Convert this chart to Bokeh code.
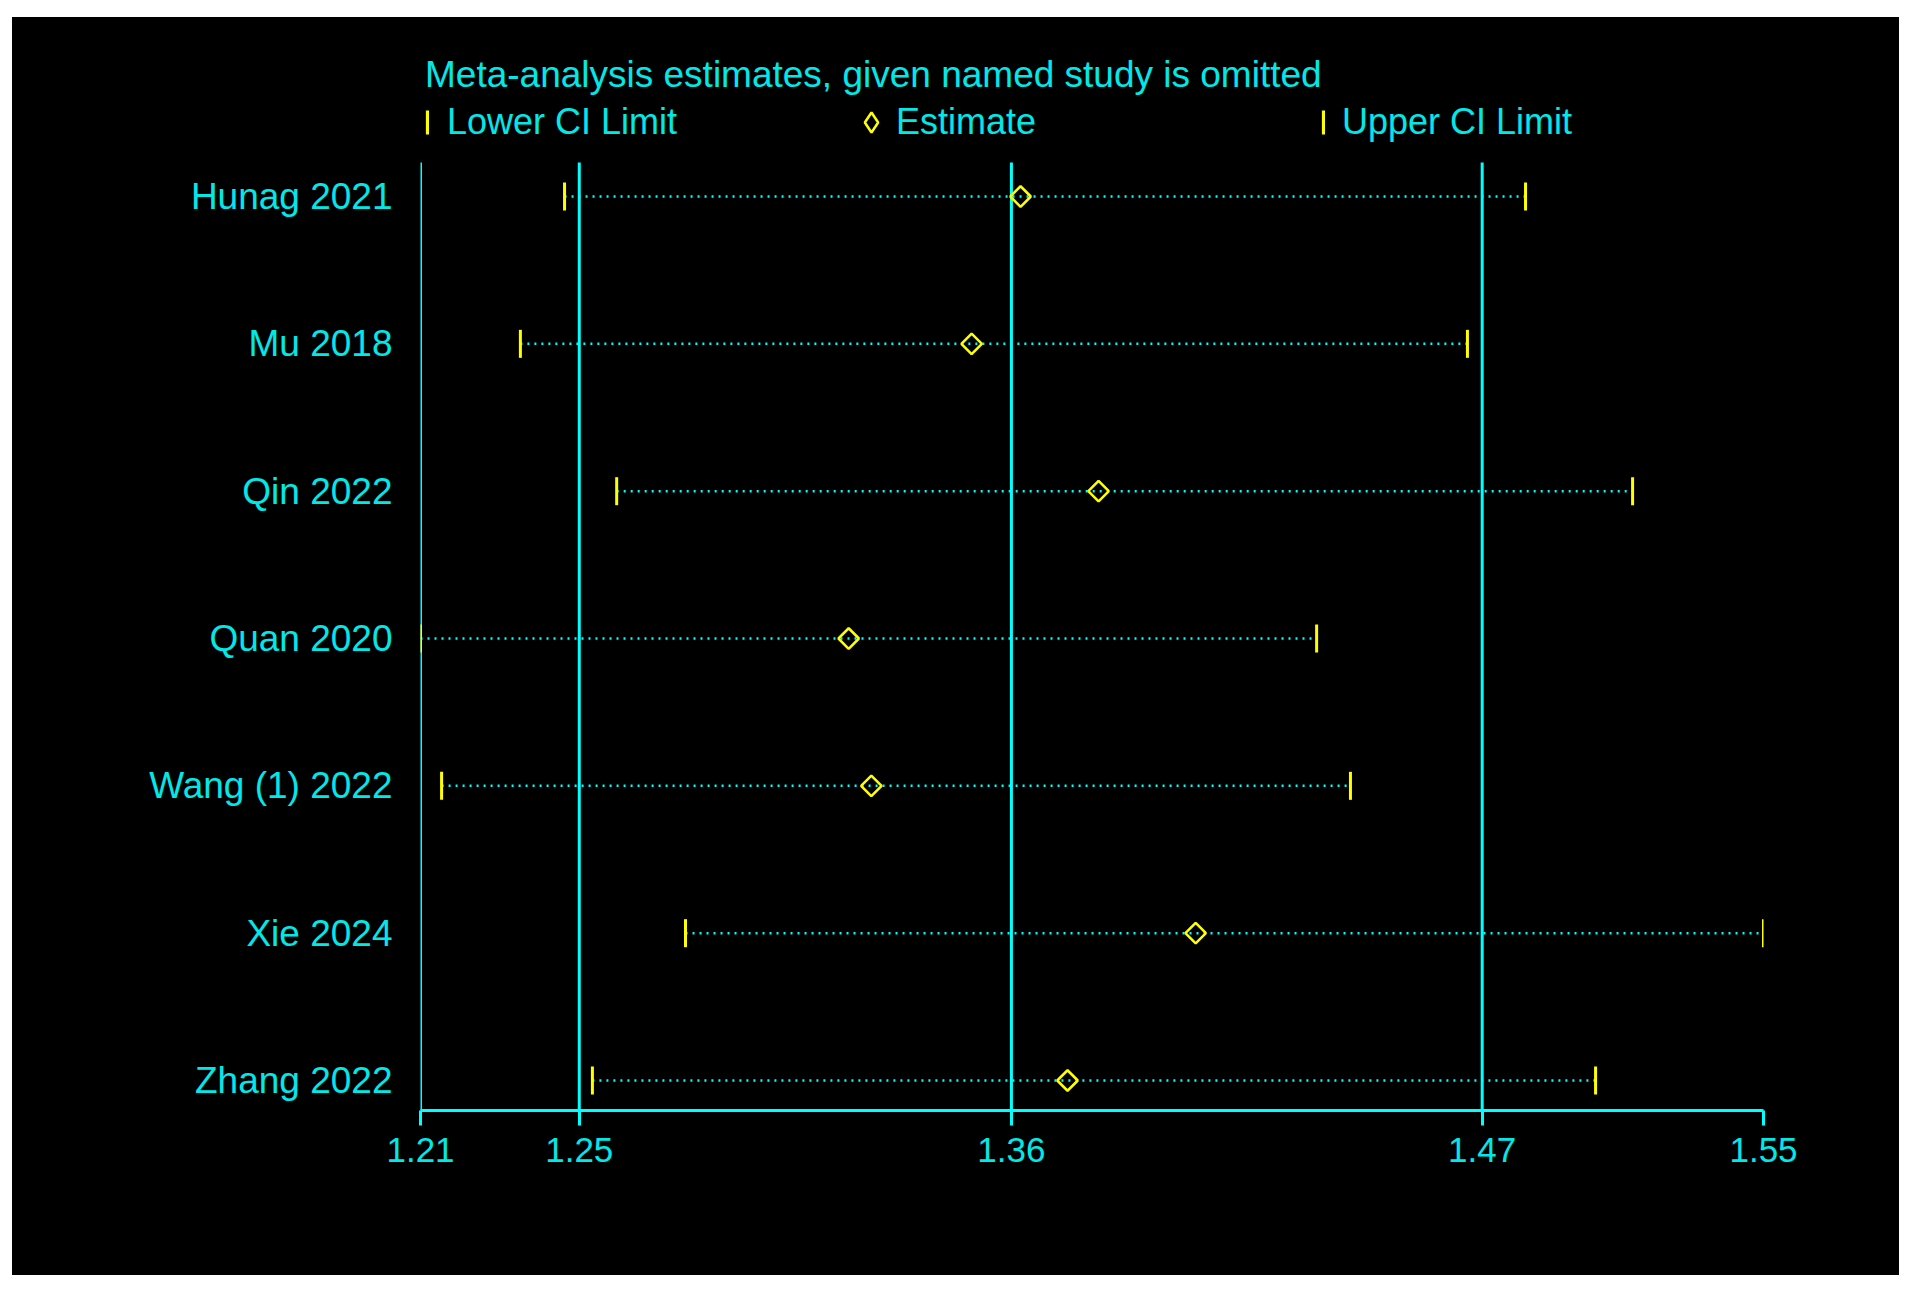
import math
from bokeh.plotting import figure
from bokeh.models import Range1d, FixedTicker, Legend, LegendItem, ColumnDataSource
from bokeh.embed import file_html
from bokeh.resources import INLINE

# ---- data ----
studies = ["Hunag 2021", "Mu 2018", "Qin 2022", "Quan 2020", "Wang (1) 2022", "Xie 2024", "Zhang 2022"]
estimate = [1.3586, 1.3463, 1.3782, 1.3154, 1.3211, 1.4026, 1.3704]
lower_ci = [1.2440, 1.2329, 1.2571, 1.2078, 1.2131, 1.2744, 1.2510]
upper_ci = [1.4855, 1.4709, 1.5124, 1.4330, 1.4415, 1.5453, 1.5031]
pooled_lower_est_upper = [1.2477, 1.3563, 1.4746]
axis_ticks = [1.2078, 1.2477, 1.3563, 1.4746, 1.5453]
axis_tick_labels = ["1.21", "1.25", "1.36", "1.47", "1.55"]
title_text = "Meta-analysis estimates, given named study is omitted"

CYAN = "#00FFFF"
TXT = "#00E8E8"
YEL = "#FFFF00"
FONT = "Liberation Sans"

n = len(studies)
ypos = [n - i for i in range(n)]
src = ColumnDataSource(dict(study=studies, y=ypos, est=estimate, lo=lower_ci, hi=upper_ci))

x_lo, x_hi = min(lower_ci), max(upper_ci)
y_bottom, y_top_lines, y_top = 1 - 0.2036, n + 0.2308, n + 1.215

p = figure(width=1887, height=1258, output_backend="svg", toolbar_location=None, title=None,
           x_range=Range1d(x_lo, x_hi), y_range=Range1d(y_bottom, y_top),
           min_border_left=408, min_border_right=136, min_border_top=0, min_border_bottom=165)
p.margin = (17, 0, 0, 12)
p.styles = {"background-color": "black"}
p.background_fill_color = None
p.border_fill_color = "black"
p.outline_line_color = None
p.xgrid.visible = False
p.ygrid.visible = False

# vertical reference lines: axis minimum and the pooled lower CI / estimate / upper CI
vlines = [x_lo] + pooled_lower_est_upper
p.segment(x0=vlines, y0=[y_bottom] * len(vlines), x1=vlines, y1=[y_top_lines] * len(vlines),
          line_color=CYAN, line_width=3)

p.segment(x0="lo", y0="y", x1="hi", y1="y", source=src, line_color=CYAN, line_width=2.5, line_dash="2 5")
r_lo = p.rect(x="lo", y="y", width=3, height=28, width_units="screen", height_units="screen",
              source=src, fill_color=YEL, line_color=None)
r_hi = p.rect(x="hi", y="y", width=3, height=28, width_units="screen", height_units="screen",
              source=src, fill_color=YEL, line_color=None)
p.scatter(x="est", y="y", source=src, marker="square", angle=math.pi / 4, size=14.5,
          fill_color=None, line_color=YEL, line_width=2.5)
# diamond key for the legend (zero size in the plot; the legend sizes its own key)
r_est_key = p.scatter(x="est", y="y", source=src, marker="diamond", size=0,
                      fill_color=None, line_color=YEL, line_width=2.5)

# axes
xa = p.xaxis[0]
xa.ticker = FixedTicker(ticks=axis_ticks)
xa.major_label_overrides = dict(zip(axis_ticks, axis_tick_labels))
xa.axis_line_color = CYAN
xa.axis_line_width = 3
xa.major_tick_line_color = CYAN
xa.major_tick_line_width = 3
xa.major_tick_in = 0
xa.major_tick_out = 15
xa.minor_tick_line_color = None
xa.major_label_text_color = TXT
xa.major_label_text_font = FONT
xa.major_label_text_font_size = "35px"
xa.major_label_standoff = 12

ya = p.yaxis[0]
ya.ticker = FixedTicker(ticks=ypos)
ya.major_label_overrides = dict(zip(ypos, studies))
ya.axis_line_color = None
ya.major_tick_line_color = None
ya.major_tick_in = 0
ya.major_tick_out = 0
ya.minor_tick_line_color = None
ya.major_label_text_color = TXT
ya.major_label_text_font = FONT
ya.major_label_text_font_size = "37px"
ya.major_label_standoff = 28


def make_legend(item, loc, gw, gh, standoff, title=None):
    leg = Legend(items=[item], location=loc, orientation="horizontal",
                 glyph_width=gw, glyph_height=gh, label_standoff=standoff,
                 padding=0, margin=0, spacing=0,
                 background_fill_alpha=0, border_line_color=None,
                 label_text_color=TXT, label_text_font=FONT, label_text_font_size="36px")
    if title is not None:
        leg.title = title
        leg.title_text_color = TXT
        leg.title_text_font = FONT
        leg.title_text_font_size = "37px"
        leg.title_text_font_style = "normal"
        leg.title_standoff = 5
    return leg


p.add_layout(make_legend(LegendItem(label="Lower CI Limit", renderers=[r_lo]), (5, 967), 4, 30, 18, title_text))
p.add_layout(make_legend(LegendItem(label="Estimate", renderers=[r_est_key]), (426, 963), 50, 50, 0))
p.add_layout(make_legend(LegendItem(label="Upper CI Limit", renderers=[r_hi]), (901, 967), 4, 30, 17))

open("out.html", "w").write(file_html(p, INLINE))
